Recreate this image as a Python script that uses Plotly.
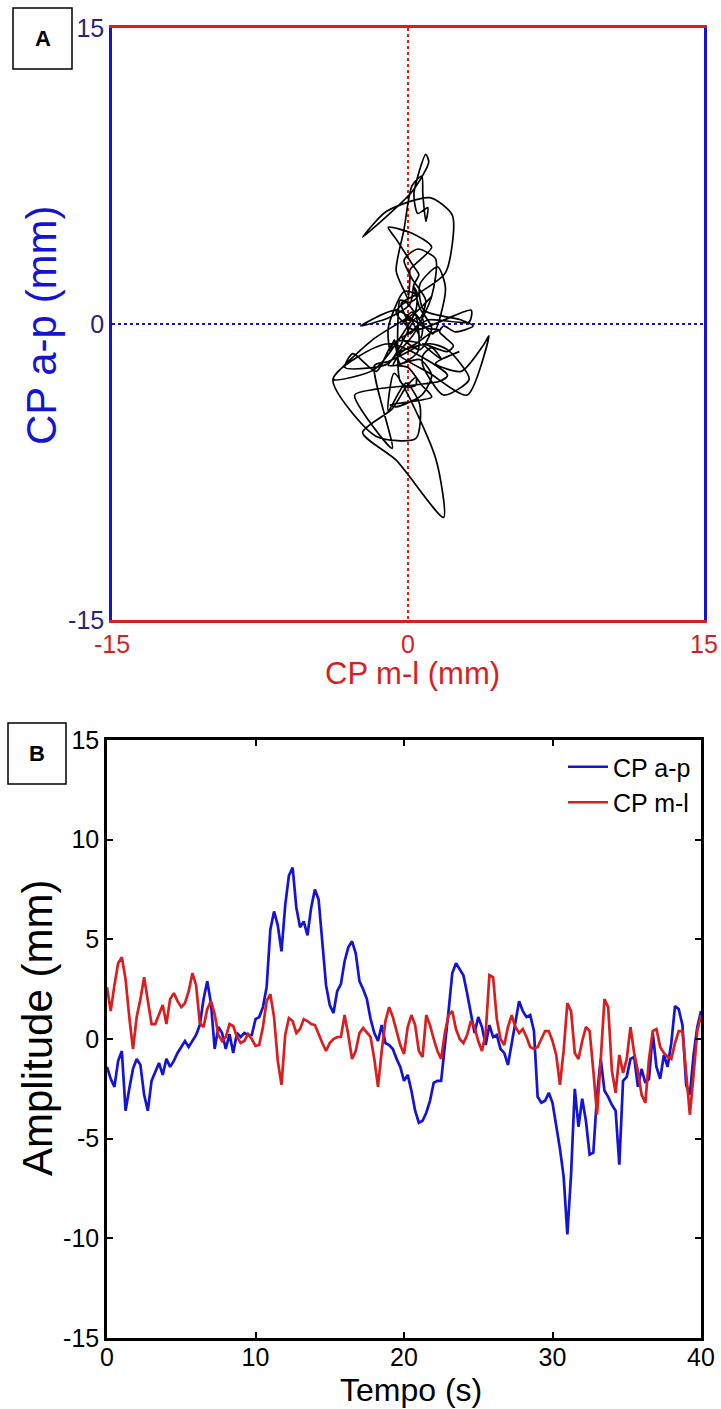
import plotly.graph_objects as go

W, H = 721, 1409

# samples every 0.25 s
tempo = [i * 0.25 for i in range(161)]

cp_ap = [
    -1.4, -2.0, -2.4, -1.1, -0.6, -3.6, -2.5, -1.5, -1.0, -1.3,
    -2.8, -3.6, -2.1, -1.6, -1.2, -1.8, -1.0, -1.4, -1.1, -0.7,
    -0.4, -0.1, -0.4, -0.1, 0.2, 0.7, 2.0, 2.9, 1.8, -0.5,
    0.6, 0.3, -0.5, 0.25, -0.7, 0.3, 0.1, 0.3, 0.2, 0.2,
    1.0, 1.1, 1.6, 2.6, 5.5, 6.4, 5.7, 4.4, 6.7, 8.2,
    8.6, 6.6, 5.6, 5.9, 5.2, 6.6, 7.5, 7.0, 4.8, 2.7,
    1.7, 1.3, 2.4, 2.75, 3.9, 4.6, 4.9, 4.3, 2.9, 2.5,
    2.0, 1.0, 0.3, -0.1, 0.7, -0.2, -0.3, -0.5, -1.0, -1.4,
    -2.1, -1.8, -2.6, -3.6, -4.2, -4.1, -3.7, -3.1, -2.2, -2.1,
    -2.1, -0.5, 1.4, 3.3, 3.8, 3.5, 3.2, 2.3, 1.2, 0.3,
    1.1, 0.6, -0.3, 0.7, 0.1, 0.2, -0.5, -0.7, -1.3, -0.2,
    0.8, 1.9, 1.4, 1.1, 1.2, 0.4, -2.9, -3.2, -3.1, -2.7,
    -3.2, -4.3, -5.5, -6.9, -9.8, -6.8, -2.5, -4.4, -3.0, -4.1,
    -5.8, -5.7, -2.8, -1.0, -2.6, -2.9, -3.3, -3.6, -6.3, -2.1,
    -1.9, -1.0, -0.9, -2.4, -1.5, -2.2, -2.0, 0.3, -1.4, -2.0,
    -0.8, -1.4, -0.2, 1.65, 1.5, 0.7, -2.3, -2.8, -0.8, 0.6,
    1.4,
]

cp_ml = [
    2.6, 1.4, 2.7, 3.8, 4.1, 3.0, 1.1, -0.5, 1.1, 2.0,
    3.1, 1.8, 0.75, 0.75, 1.2, 1.7, 0.75, 2.0, 2.3, 1.9,
    1.6, 1.8, 2.4, 3.3, 2.7, 0.8, 0.6, 1.5, 1.9, 1.25,
    0.2, -0.1, 0.1, 0.75, 0.65, 0.1, -0.2, -0.1, 0.25, 0.0,
    -0.35, -0.3, 0.6, 1.9, 2.25, 1.1, -1.1, -2.3, 0.2, 1.05,
    0.9, 0.3, 0.5, 1.0, 0.9, 0.75, 0.7, 0.2, -0.2, -0.6,
    -0.2, 0.0, 0.1, 0.1, 1.2, 0.2, -1.0, -0.6, 0.3, 0.55,
    0.3, 0.1, -1.0, -2.4, -0.6, 0.9, 1.6, 1.1, 0.4, -0.3,
    -0.75, 0.6, 1.2, 0.7, -0.6, -0.9, 1.2, 0.7, 0.0, -0.6,
    -1.0, 0.3, 1.2, 1.4, 0.5, 0.0, -0.2, 0.2, 0.9, 0.6,
    -0.1, -0.6, 0.3, 3.2, 3.1, 1.0, 0.0, -0.3, 0.6, 1.2,
    0.6, 0.3, 0.5, 0.1, -0.4, -0.5, -0.4, 0.0, 0.4, 0.4,
    -0.1, -0.8, -2.3, -0.6, 1.8, 1.4, -0.7, -1.0, -0.1, 0.6,
    0.4, -1.6, -3.8, -1.0, 2.0, 1.6, -1.6, -2.7, -0.8, -1.7,
    -1.0, 0.6, -0.7, -1.6, -2.8, -3.2, -1.0, 0.4, 0.5, -0.4,
    -0.7, -0.9, -1.0, -0.2, 0.4, 0.4, -1.7, -3.8, -1.8, 0.4,
    1.2,
]

lim_a = [-15, 0, 15]
ticks_b_x = [0, 10, 20, 30, 40]
ticks_b_y = [-15, -10, -5, 0, 5, 10, 15]

FONT = "Liberation Sans, Arial, sans-serif"
BLUE = "#1414d2"
RED = "#d81e1e"
DARKBLUE = "#26267a"


def px(x):
    return x / W


def py(y):
    return 1 - y / H


def labels(vals):
    # matlab style hyphen minus
    return [str(v) for v in vals]


fig = go.Figure()

# A: stabilogram (m-l vs a-p)
fig.add_trace(go.Scatter(x=cp_ml, y=cp_ap, mode="lines",
                         line=dict(color="black", width=1.7, shape="spline",
                                   smoothing=0.7),
                         showlegend=False, xaxis="x", yaxis="y"))

# B: time series
fig.add_trace(go.Scatter(x=tempo, y=cp_ap, mode="lines", name="CP a-p",
                         line=dict(color=BLUE, width=2.7),
                         xaxis="x2", yaxis="y2"))
fig.add_trace(go.Scatter(x=tempo, y=cp_ml, mode="lines", name="CP m-l",
                         line=dict(color=RED, width=2.7),
                         xaxis="x2", yaxis="y2"))

fig.update_layout(
    width=W, height=H,
    margin=dict(l=0, r=0, t=0, b=0, autoexpand=False),
    paper_bgcolor="white", plot_bgcolor="white",
    font=dict(family=FONT, size=22, color="black"),
    xaxis=dict(domain=[px(112), px(704)], anchor="y", range=[-15, 15],
               tickvals=lim_a, ticktext=labels(lim_a), ticks="",
               showline=True, linecolor=RED, linewidth=2.5, mirror=True,
               showgrid=True, gridcolor=RED, griddash="dot", gridwidth=1.6,
               zeroline=False, automargin=False,
               tickfont=dict(color=RED, size=25)),
    yaxis=dict(domain=[py(620), py(28)], anchor="x", range=[-15, 15],
               tickvals=lim_a, ticktext=labels(lim_a), ticks="",
               showline=True, linecolor=BLUE, linewidth=2.5, mirror=True,
               showgrid=True, gridcolor=BLUE, griddash="dot", gridwidth=1.6,
               zeroline=False, automargin=False,
               tickfont=dict(color=DARKBLUE, size=25)),
    xaxis2=dict(domain=[px(107), px(701)], anchor="y2", range=[0, 40],
                tickvals=ticks_b_x, ticktext=labels(ticks_b_x),
                ticks="inside", ticklen=6, tickwidth=2, tickcolor="black",
                ticklabelstandoff=-5,
                showline=True, linecolor="black", linewidth=2.5,
                mirror="ticks", showgrid=False, zeroline=False,
                automargin=False, tickfont=dict(size=25)),
    yaxis2=dict(domain=[py(1338), py(740)], anchor="x2", range=[-15, 15],
                tickvals=ticks_b_y, ticktext=labels(ticks_b_y),
                ticks="inside", ticklen=6, tickwidth=2, tickcolor="black",
                showline=True, linecolor="black", linewidth=2.5,
                mirror="ticks", showgrid=False, zeroline=False,
                automargin=False, tickfont=dict(size=25)),
    legend=dict(x=px(696), xanchor="right", y=py(744), yanchor="top",
                bgcolor="rgba(0,0,0,0)", font=dict(size=25),
                tracegroupgap=0, itemwidth=40),
)

# axis titles
titles = [
    ("CP a-p (mm)", 42, 325, 42, BLUE, -90),
    ("CP m-l (mm)", 412, 673, 31, RED, 0),
    ("Amplitude (mm)", 37, 1028, 42, "black", -90),
    ("Tempo (s)", 411, 1390, 32, "black", 0),
]
for text, x, y, size, color, angle in titles:
    fig.add_annotation(xref="paper", yref="paper", x=px(x), y=py(y),
                       xanchor="center", yanchor="middle", text=text,
                       textangle=angle, showarrow=False,
                       font=dict(size=size, color=color))

# panel letters in boxes
for (x0, y0, x1, y1, letter) in [(13, 8, 72, 69, "A"), (8, 723, 66, 784, "B")]:
    fig.add_shape(type="rect", xref="paper", yref="paper",
                  x0=px(x0), x1=px(x1), y0=py(y1), y1=py(y0),
                  line=dict(color="black", width=1.5), fillcolor="white")
    fig.add_annotation(xref="paper", yref="paper", x=px((x0 + x1) / 2),
                       y=py((y0 + y1) / 2), xanchor="center",
                       yanchor="middle", text="<b>%s</b>" % letter,
                       showarrow=False, font=dict(size=22, color="black"))

# page body margin would shift the figure by 8px
fig.write_html("out.html", config={"displayModeBar": False},
               post_script="document.body.style.margin='0px';")
